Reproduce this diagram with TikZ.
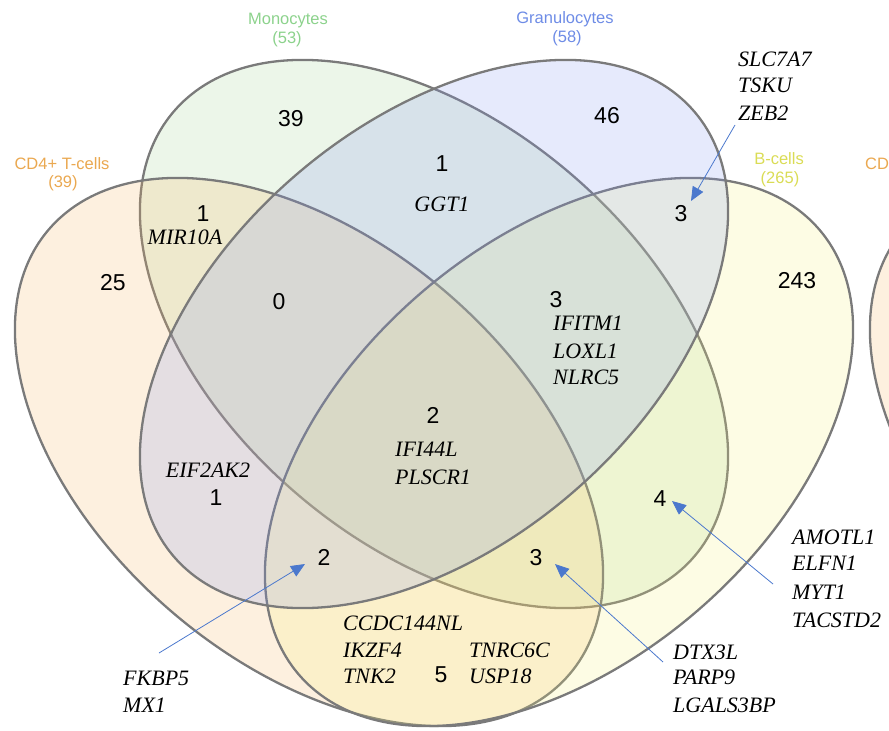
\documentclass[tikz,border=0pt]{standalone}
\usepackage{fontspec}
\setmainfont{Liberation Serif}
\newfontfamily\numfont{Liberation Sans}
\usetikzlibrary{arrows.meta}
\definecolor{cdfill}{RGB}{245,180,95}
\definecolor{mofill}{RGB}{160,210,145}
\definecolor{grfill}{RGB}{130,150,240}
\definecolor{bcfill}{RGB}{245,240,120}
\definecolor{cdlab}{RGB}{234,168,80}
\definecolor{molab}{RGB}{140,210,140}
\definecolor{grlab}{RGB}{110,140,230}
\definecolor{bclab}{RGB}{218,220,85}
\definecolor{vline}{RGB}{122,122,122}
\definecolor{arrc}{RGB}{75,120,205}
\tikzset{
  venn/.style={line width=2.3pt, draw=vline, fill opacity=0.2},
  gene/.style={font=\fontsize{22}{26}\selectfont\itshape, inner sep=0pt},
  num/.style={font=\numfont\fontsize{23}{27}\selectfont, inner sep=0pt},
  lab/.style={font=\numfont\fontsize{16.5}{20}\selectfont, inner sep=0pt},
  arr/.style={draw=arrc, line width=0.8pt, -{Triangle[length=14pt,width=12pt]}}
}
\begin{document}
\begin{tikzpicture}[x=1pt, y=-1pt]
\useasboundingbox (0,0) rectangle (889,731);
\clip (0,0) rectangle (889,731);
% ellipses: green, orange, yellow, blue, extra
\begin{scope}[shift={(434,334)}, xscale=294, yscale=274, rotate=-45]
  \filldraw[venn, fill=mofill] (0,0) ellipse (1.203 and 0.744);
\end{scope}
\begin{scope}[shift={(309,452)}, xscale=294, yscale=274, rotate=-45]
  \filldraw[venn, fill=cdfill] (0,0) ellipse (1.203 and 0.744);
\end{scope}
\begin{scope}[shift={(559,452)}, xscale=294, yscale=274, rotate=45]
  \filldraw[venn, fill=bcfill] (0,0) ellipse (1.203 and 0.744);
\end{scope}
\begin{scope}[shift={(434,334)}, xscale=294, yscale=274, rotate=45]
  \filldraw[venn, fill=grfill] (0,0) ellipse (1.203 and 0.744);
\end{scope}
\begin{scope}[shift={(1164,452)}, xscale=294, yscale=274, rotate=-45]
  \filldraw[venn, fill=cdfill] (0,0) ellipse (1.203 and 0.744);
\end{scope}
% set labels
\node[lab, text=molab, anchor=base] (moname) at (288,24) {Monocytes};
\node[lab, text=molab, anchor=base] (mocount) at (287,43) {(53)};
\node[lab, text=grlab, anchor=base] (grname) at (565,23) {Granulocytes};
\node[lab, text=grlab, anchor=base] (grcount) at (567,42) {(58)};
\node[lab, text=cdlab, anchor=base] (cdname) at (62,169) {CD4+ T-cells};
\node[lab, text=cdlab, anchor=base] (cdcount) at (63,187) {(39)};
\node[lab, text=bclab, anchor=base] (bcname) at (779,164) {B-cells};
\node[lab, text=bclab, anchor=base] (bccount) at (780,183) {(265)};
\node[lab, text=cdlab, anchor=base west] (cdname2) at (865,169) {CD};
% counts
\node[num, anchor=base] (n39) at (291,126) {39};
\node[num, anchor=base] (n46) at (607,123) {46};
\node[num, anchor=base] (n25) at (113,290) {25};
\node[num, anchor=base] (n243) at (797,288) {243};
\node[num, anchor=base] (nmg) at (442,171) {1};
\node[num, anchor=base] (ncm) at (203,221) {1};
\node[num, anchor=base] (ngb) at (681,221) {3};
\node[num, anchor=base] (ncmg) at (279,309) {0};
\node[num, anchor=base] (nmgb) at (556,307) {3};
\node[num, anchor=base] (nall) at (433,423) {2};
\node[num, anchor=base] (ncg) at (216,505) {1};
\node[num, anchor=base] (ncgb) at (324,565) {2};
\node[num, anchor=base] (nmb) at (660,506) {4};
\node[num, anchor=base] (ncmb) at (536,565) {3};
\node[num, anchor=base] (ncb) at (441,682) {5};
% genes
\node[gene, anchor=base] (gGGT) at (442,211) {GGT1};
\node[gene, anchor=base] (gMIR) at (185,244) {MIR10A};
\node[gene, anchor=base west] (gIFITM) at (553,330) {IFITM1};
\node[gene, anchor=base west] (gLOXL) at (553,358) {LOXL1};
\node[gene, anchor=base west] (gNLRC) at (553,384) {NLRC5};
\node[gene, anchor=base west] (gIFI) at (395,456) {IFI44L};
\node[gene, anchor=base west] (gPLS) at (395,484) {PLSCR1};
\node[gene, anchor=base] (gEIF) at (208,477) {EIF2AK2};
\node[gene, anchor=base west] (gCCDC) at (343,630) {CCDC144NL};
\node[gene, anchor=base west] (gIKZF) at (343,657) {IKZF4};
\node[gene, anchor=base west] (gTNK) at (343,683) {TNK2};
\node[gene, anchor=base west] (gTNRC) at (469,657) {TNRC6C};
\node[gene, anchor=base west] (gUSP) at (469,683) {USP18};
\node[gene, anchor=base west] (gFKBP) at (123,685) {FKBP5};
\node[gene, anchor=base west] (gMX) at (123,712) {MX1};
\node[gene, anchor=base west] (gDTX) at (673,659) {DTX3L};
\node[gene, anchor=base west] (gPARP) at (673,684) {PARP9};
\node[gene, anchor=base west] (gLGAL) at (673,712) {LGALS3BP};
\node[gene, anchor=base west] (gAMOT) at (792,544) {AMOTL1};
\node[gene, anchor=base west] (gELFN) at (792,570) {ELFN1};
\node[gene, anchor=base west] (gMYT) at (792,599) {MYT1};
\node[gene, anchor=base west] (gTACS) at (792,627) {TACSTD2};
\node[gene, anchor=base west] (gSLC) at (738,66) {SLC7A7};
\node[gene, anchor=base west] (gTSKU) at (738,92) {TSKU};
\node[gene, anchor=base west] (gZEB) at (738,120) {ZEB2};
% arrows
\coordinate (a1s) at (735,125); \coordinate (a1e) at (691,201);
\coordinate (a2s) at (159,653); \coordinate (a2e) at (305,564);
\coordinate (a3s) at (663,662); \coordinate (a3e) at (555,564);
\coordinate (a4s) at (773,584); \coordinate (a4e) at (672,501);
\draw[arr] (a1s) -- (a1e);
\draw[arr] (a2s) -- (a2e);
\draw[arr] (a3s) -- (a3e);
\draw[arr] (a4s) -- (a4e);
\end{tikzpicture}
\end{document}
